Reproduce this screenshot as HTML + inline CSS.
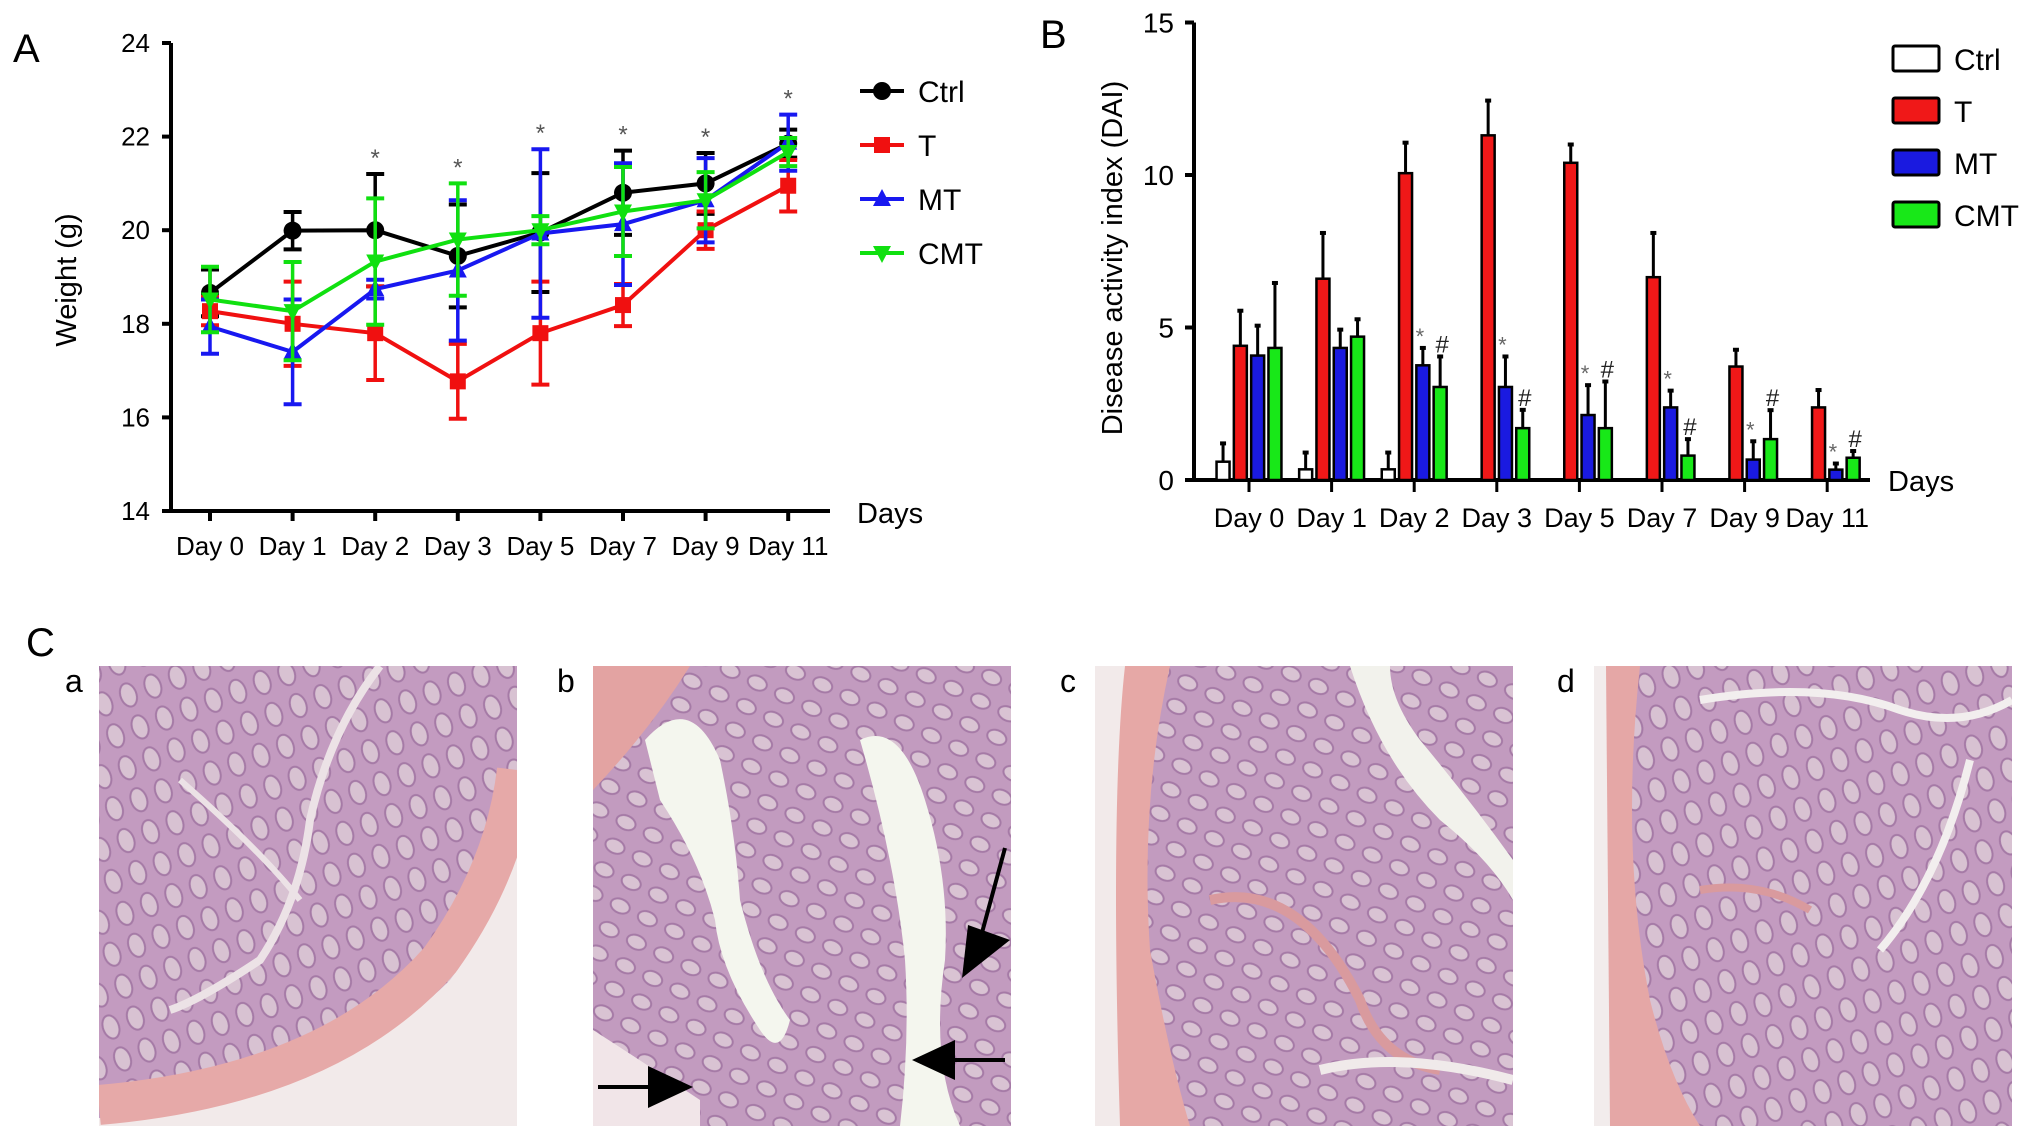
<!DOCTYPE html>
<html><head><meta charset="utf-8">
<style>
html,body{margin:0;padding:0;background:#fff;}
svg{display:block;font-family:"Liberation Sans",Arial,sans-serif;}
</style></head>
<body>
<svg id="fig" width="2032" height="1137" viewBox="0 0 2032 1137">
<defs>
<pattern id="crypt" width="30" height="26" patternUnits="userSpaceOnUse" patternTransform="rotate(25)">
<rect width="30" height="26" fill="#c29bbf"/>
<ellipse cx="15" cy="13" rx="10" ry="7" fill="#d9c3d3" stroke="#a57aa6" stroke-width="2"/>
</pattern>
<pattern id="crypt2" width="26" height="34" patternUnits="userSpaceOnUse" patternTransform="rotate(-20)">
<rect width="26" height="34" fill="#c39bc0"/>
<ellipse cx="13" cy="17" rx="8" ry="12" fill="#d8c2d2" stroke="#a57aa6" stroke-width="2"/>
</pattern>
<clipPath id="clipA"><rect x="99" y="666" width="418" height="460"/></clipPath>
<clipPath id="clipB"><rect x="593" y="666" width="418" height="460"/></clipPath>
<clipPath id="clipC"><rect x="1095" y="666" width="418" height="460"/></clipPath>
<clipPath id="clipD"><rect x="1594" y="666" width="418" height="460"/></clipPath>
</defs>
<g id="panelA"></g>
<g id="panelB"></g>
<g id="panelC">
<text x="26" y="656" font-size="40">C</text>
<text x="65" y="692" font-size="32">a</text>
<text x="557" y="692" font-size="32">b</text>
<text x="1060" y="692" font-size="32">c</text>
<text x="1557" y="692" font-size="32">d</text>
<g clip-path="url(#clipA)">
<rect x="99" y="666" width="418" height="460" fill="url(#crypt2)"/>
<path d="M99 1126 L99 1118 Q330 1100 450 980 Q510 900 517 820 L517 1126 Z" fill="#f2eaea"/>
<path d="M99 1105 Q330 1085 440 960 Q505 870 517 770" stroke="#e6a9a8" stroke-width="40" fill="none"/>
<path d="M380 666 Q330 730 310 820 Q300 900 260 960 Q200 1000 170 1010" stroke="#ece2e6" stroke-width="8" fill="none"/>
<path d="M180 780 Q260 850 300 900" stroke="#ece2e6" stroke-width="6" fill="none"/>
</g>
<g clip-path="url(#clipB)">
<rect x="593" y="666" width="418" height="460" fill="url(#crypt)"/>
<path d="M593 790 L593 666 L690 666 Q650 730 593 790 Z" fill="#e3a3a2"/>
<path d="M645 740 Q690 690 720 760 Q735 830 740 900 Q760 980 790 1020 Q780 1060 760 1030 Q720 970 715 920 Q700 860 660 800 Z" fill="#f4f6ee"/>
<path d="M860 740 Q900 720 925 800 Q950 880 945 960 Q930 1060 960 1126 L900 1126 Q910 1040 905 960 Q895 860 860 740 Z" fill="#f4f6ee"/>
<path d="M593 1030 Q640 1060 700 1100 L700 1126 L593 1126 Z" fill="#f1e5e8"/>
<line x1="1005" y1="848" x2="980" y2="940" stroke="#000" stroke-width="4"/>
<polygon points="962,978 1010,940 968,925" fill="#000"/>
<line x1="1005" y1="1060" x2="940" y2="1060" stroke="#000" stroke-width="4"/>
<polygon points="912,1060 955,1040 955,1080" fill="#000"/>
<line x1="598" y1="1087" x2="660" y2="1087" stroke="#000" stroke-width="4"/>
<polygon points="693,1087 648,1066 648,1108" fill="#000"/>
</g>
<g clip-path="url(#clipC)">
<rect x="1095" y="666" width="418" height="460" fill="url(#crypt)"/>
<path d="M1095 666 L1170 666 Q1140 800 1150 950 Q1170 1060 1190 1126 L1095 1126 Z" fill="#e6a8a6"/>
<path d="M1095 666 L1125 666 Q1110 800 1120 1126 L1095 1126 Z" fill="#f2eaea"/>
<path d="M1350 666 Q1380 760 1440 820 Q1490 860 1513 900 L1513 860 Q1470 800 1420 740 Q1390 700 1390 666 Z" fill="#f2f2ec"/>
<path d="M1210 900 Q1300 880 1360 1000 Q1380 1060 1440 1070" stroke="#d99a9e" stroke-width="10" fill="none"/>
<path d="M1320 1070 Q1400 1050 1513 1080" stroke="#f0eaea" stroke-width="10" fill="none"/>
</g>
<g clip-path="url(#clipD)">
<rect x="1594" y="666" width="418" height="460" fill="url(#crypt2)"/>
<path d="M1594 666 L1640 666 Q1620 850 1650 1000 Q1670 1080 1700 1126 L1594 1126 Z" fill="#e5a7a6"/>
<path d="M1594 666 L1606 666 L1610 1126 L1594 1126 Z" fill="#f2ecec"/>
<path d="M1700 700 Q1820 680 1900 710 Q1960 730 2012 700" stroke="#f2eeee" stroke-width="8" fill="none"/>
<path d="M1880 950 Q1940 880 1970 760" stroke="#f2eeee" stroke-width="8" fill="none"/>
<path d="M1700 890 Q1760 880 1810 910" stroke="#d99a9e" stroke-width="8" fill="none"/>
</g>
</g>
</svg>
<script>
// ---------- Panel A data ----------
const daysA = ["Day 0","Day 1","Day 2","Day 3","Day 5","Day 7","Day 9","Day 11"];
const ticksA = [14,16,18,20,22,24];
const ctrlW = [18.66,19.99,20.0,19.45,19.95,20.8,21.0,21.85];
const ctrlE = [0.5,0.4,1.2,1.1,1.27,0.9,0.65,0.3];
const tW = [18.27,18.0,17.8,16.77,17.8,18.4,20.0,20.95];
const tE = [0.3,0.9,1.0,0.8,1.1,0.45,0.4,0.55];
const mtW = [17.94,17.4,18.74,19.14,19.93,20.13,20.64,21.87];
const mtE = [0.58,1.12,0.2,1.5,1.8,1.3,0.9,0.6];
const cmtW = [18.52,18.27,19.33,19.8,20.0,20.4,20.64,21.67];
const cmtE = [0.7,1.05,1.35,1.2,0.3,0.95,0.6,0.3];
const starA = [false,false,true,true,true,true,true,true];
// ---------- Panel B data ----------
const daysB = ["Day 0","Day 1","Day 2","Day 3","Day 5","Day 7","Day 9","Day 11"];
const ticksB = [0,5,10,15];
const ctrlD = [0.6,0.35,0.35,0,0,0,0,0];
const ctrlDE = [0.6,0.55,0.55,0,0,0,0,0];
const tD = [4.4,6.6,10.06,11.3,10.4,6.65,3.72,2.38];
const tDE = [1.15,1.5,1.0,1.14,0.6,1.45,0.55,0.57];
const mtD = [4.08,4.33,3.76,3.05,2.13,2.38,0.67,0.34];
const mtDE = [0.98,0.6,0.57,1.0,0.98,0.55,0.6,0.2];
const cmtD = [4.33,4.7,3.05,1.7,1.7,0.8,1.34,0.73];
const cmtDE = [2.13,0.57,1.0,0.6,1.53,0.54,0.95,0.22];
const starB = [false,false,true,true,true,true,true,true];
const hashB = [false,false,true,true,true,true,true,true];

const NS="http://www.w3.org/2000/svg";
function mk(tag,attrs,parent,txt){const e=document.createElementNS(NS,tag);for(const k in attrs)e.setAttribute(k,attrs[k]);if(txt!==undefined)e.textContent=txt;parent.appendChild(e);return e;}

// ---- Panel A ----
const A=document.getElementById('panelA');
const xA=i=>210+i*82.6;
const yA=v=>511-(v-14)*46.8;
let t=mk('text',{x:13,y:62,'font-size':40},A,'A');


let ax=mk('path',{d:`M171 ${yA(24)} L171 ${yA(14)} L830 ${yA(14)}`,stroke:'#000','stroke-width':4,fill:'none'},A);


ticksA.forEach(v=>{
  mk('line',{x1:162,x2:171,y1:yA(v),y2:yA(v),stroke:'#000','stroke-width':4},A);
  const l=mk('text',{x:150,y:yA(v)+9,'font-size':26,'text-anchor':'end'},A,String(v));
  
  
});
daysA.forEach((d,i)=>{
  mk('line',{x1:xA(i),x2:xA(i),y1:yA(14),y2:yA(14)+10,stroke:'#000','stroke-width':4},A);
  const l=mk('text',{x:xA(i),y:555,'font-size':26,'text-anchor':'middle'},A,d);
  
  
});
t=mk('text',{x:857,y:523,'font-size':29},A,'Days');


t=mk('text',{x:0,y:0,'font-size':29,'text-anchor':'middle',transform:'translate(76,280) rotate(-90)'},A,'Weight (g)');


function marker(shape,x,y,c,g){
  if(shape==='circle')mk('circle',{cx:x,cy:y,r:9,fill:c},g);
  else if(shape==='square')mk('rect',{x:x-8,y:y-8,width:16,height:16,fill:c},g);
  else if(shape==='up')mk('polygon',{points:`${x},${y-10} ${x-9},${y+7} ${x+9},${y+7}`,fill:c},g);
  else mk('polygon',{points:`${x},${y+10} ${x-9},${y-7} ${x+9},${y-7}`,fill:c},g);
}
const seriesA=[
  {name:'Ctrl',v:ctrlW,e:ctrlE,c:'#000',s:'circle'},
  {name:'T',v:tW,e:tE,c:'#f01010',s:'square'},
  {name:'MT',v:mtW,e:mtE,c:'#1818f0',s:'up'},
  {name:'CMT',v:cmtW,e:cmtE,c:'#10e010',s:'down'}];
seriesA.forEach((s,k)=>{
  const g=mk('g',{},A);
  
  
  s.v.forEach((v,i)=>{
    const x=xA(i);
    mk('line',{x1:x,x2:x,y1:yA(v-s.e[i]),y2:yA(v+s.e[i]),stroke:s.c,'stroke-width':3.5},g);
    [v-s.e[i],v+s.e[i]].forEach(w=>mk('line',{x1:x-9,x2:x+9,y1:yA(w),y2:yA(w),stroke:s.c,'stroke-width':4},g));
  });
  mk('polyline',{points:s.v.map((v,i)=>xA(i)+','+yA(v)).join(' '),stroke:s.c,'stroke-width':4,fill:'none'},g);
  s.v.forEach((v,i)=>marker(s.s,xA(i),yA(v),s.c,g));
  const ly=91+k*54;
  const lg=mk('g',{},A);
  
  
  mk('line',{x1:860,x2:904,y1:ly,y2:ly,stroke:s.c,'stroke-width':4},lg);
  marker(s.s,882,ly,s.c,lg);
  mk('text',{x:918,y:ly+11,'font-size':30},lg,s.name);
});
starA.forEach((f,i)=>{
  if(!f)return;
  const top=Math.max(...seriesA.map(s=>s.v[i]+s.e[i]));
  const st=mk('text',{x:xA(i),y:yA(top)-8,'font-size':24,fill:'#555','text-anchor':'middle'},A,'*');
  
  
});

// ---- Panel B ----
const B=document.getElementById('panelB');
const xB=i=>1249+i*82.6;
const yB=v=>480-v*30.5;
t=mk('text',{x:1040,y:48,'font-size':40},B,'B');


ax=mk('path',{d:`M1194 ${yB(15)} L1194 ${yB(0)} L1870 ${yB(0)}`,stroke:'#000','stroke-width':4,fill:'none'},B);


ticksB.forEach(v=>{
  mk('line',{x1:1185,x2:1194,y1:yB(v),y2:yB(v),stroke:'#000','stroke-width':4},B);
  const l=mk('text',{x:1174,y:yB(v)+10,'font-size':28,'text-anchor':'end'},B,String(v));
  
  
});
daysB.forEach((d,i)=>{
  mk('line',{x1:xB(i),x2:xB(i),y1:yB(0),y2:yB(0)+12,stroke:'#000','stroke-width':3},B);
  const l=mk('text',{x:xB(i),y:527,'font-size':27,'text-anchor':'middle'},B,d);
  
  
});
t=mk('text',{x:1888,y:491,'font-size':29},B,'Days');


t=mk('text',{x:0,y:0,'font-size':29,'text-anchor':'middle',transform:'translate(1122,258) rotate(-90)'},B,'Disease activity index (DAI)');


const seriesB=[
  {name:'Ctrl',v:ctrlD,e:ctrlDE,c:'#ffffff'},
  {name:'T',v:tD,e:tDE,c:'#f01818'},
  {name:'MT',v:mtD,e:mtDE,c:'#1a1ae0'},
  {name:'CMT',v:cmtD,e:cmtDE,c:'#18e818'}];
const bw=13, step=17.3;
seriesB.forEach((s,k)=>{
  const g=mk('g',{},B);
  
  
  s.v.forEach((v,i)=>{
    if(v<=0)return;
    const cx=xB(i)+(k-1.5)*step;
    mk('line',{x1:cx,x2:cx,y1:yB(v),y2:yB(v+s.e[i]),stroke:'#000','stroke-width':3},g);
    mk('line',{x1:cx-3,x2:cx+3,y1:yB(v+s.e[i]),y2:yB(v+s.e[i]),stroke:'#000','stroke-width':4},g);
    const r=mk('rect',{x:cx-bw/2,y:yB(v),width:bw,height:yB(0)-yB(v),fill:s.c,stroke:'#000','stroke-width':2.5},g);
    
    
  });
  const ly=46+k*52;
  const lg=mk('g',{},B);
  
  
  mk('rect',{x:1893,y:ly,width:46,height:25,fill:s.c,stroke:'#000','stroke-width':3,rx:2},lg);
  mk('text',{x:1954,y:ly+24,'font-size':30},lg,s.name);
});
starB.forEach((f,i)=>{
  if(f){const x=xB(i)+0.5*step, v=mtD[i]+mtDE[i];
    const st=mk('text',{x:x-3,y:yB(v)-4,'font-size':22,fill:'#666','text-anchor':'middle'},B,'*');
    
    }
  if(hashB[i]){const x=xB(i)+1.5*step, v=cmtD[i]+cmtDE[i];
    const h=mk('text',{x:x+2,y:yB(v)-4,'font-size':24,fill:'#222','text-anchor':'middle'},B,'#');
    
    }
});
</script>
</body></html>
